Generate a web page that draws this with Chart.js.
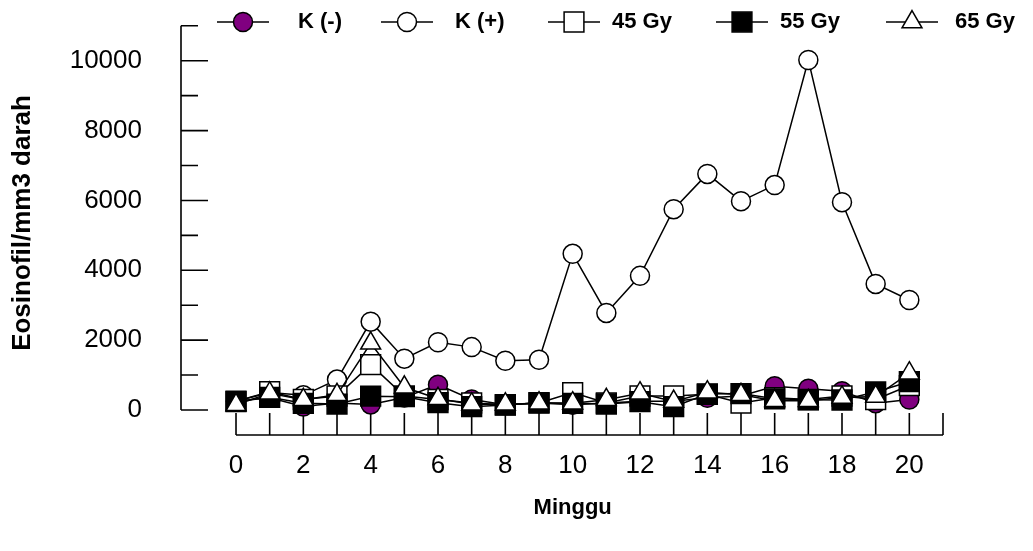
<!DOCTYPE html>
<html>
<head>
<meta charset="utf-8">
<script src="https://cdn.jsdelivr.net/npm/chart.js@4.4.1/dist/chart.umd.min.js"></script>
<style>
  body { margin: 0; background: #fff; }
  #wrap { width: 1033px; height: 551px; }
</style>
</head>
<body>
<div id="wrap"><canvas id="eosChart" width="1033" height="551"></canvas></div>
<script>
// weeks (Minggu) on the x axis
const weeks = [0, 1, 2, 3, 4, 5, 6, 7, 8, 9, 10, 11, 12, 13, 14, 15, 16, 17, 18, 19, 20];
const xTickLabels = [0, 2, 4, 6, 8, 10, 12, 14, 16, 18, 20];
const yTickLabels = [0, 2000, 4000, 6000, 8000, 10000];

// eosinophil counts per mm3 blood
const kMinus = [250, 350, 100, 200, 160, 360, 725, 300, 150, 200, 150, 200, 250, 250, 350, 400, 680, 610, 540, 195, 300];
const kPlus  = [250, 500, 420, 870, 2530, 1470, 1940, 1800, 1410, 1440, 4470, 2780, 3840, 5750, 6760, 5980, 6440, 10020, 5950, 3610, 3150];
const gy45   = [250, 525, 300, 400, 1300, 400, 300, 200, 150, 200, 500, 200, 400, 400, 450, 200, 350, 300, 400, 300, 700];
const gy55   = [240, 364, 190, 170, 395, 380, 210, 95, 143, 210, 190, 172, 238, 95, 458, 470, 320, 290, 286, 515, 810];
const gy65   = [150, 480, 290, 435, 1910, 650, 320, 167, 167, 195, 195, 292, 481, 243, 510, 435, 263, 263, 358, 386, 1054];

const FONT = '"Liberation Sans", Arial, sans-serif';

function pts(values) {
    return weeks.map((w, i) => ({ x: w, y: values[i] }));
}

function series(label, values, style, radius, fill, order) {
    return {
        label: label,
        data: pts(values),
        order: order,
        borderColor: '#000',
        borderWidth: 1.5,
        tension: 0,
        pointStyle: style,
        pointRadius: radius,
        pointBackgroundColor: fill,
        pointBorderColor: '#000',
        pointBorderWidth: 1.5
    };
}

// same marker shapes as Chart.js uses, for the legend
function marker(ctx, style, r, x, y) {
    ctx.beginPath();
    if (style === 'circle') {
        ctx.arc(x, y, r, 0, Math.PI * 2);
    } else if (style === 'rect') {
        const s = r * Math.SQRT1_2;
        ctx.rect(x - s, y - s, 2 * s, 2 * s);
    } else if (style === 'triangle') {
        ctx.moveTo(x, y - r);
        ctx.lineTo(x + Math.sin(2 * Math.PI / 3) * r, y + 0.5 * r);
        ctx.lineTo(x - Math.sin(2 * Math.PI / 3) * r, y + 0.5 * r);
        ctx.closePath();
    }
    ctx.fill();
    ctx.stroke();
}

const sigmaAxes = {
    id: 'sigmaAxes',
    beforeDatasetsDraw(chart) {
        const { ctx, chartArea, scales: { x, y } } = chart;
        ctx.save();
        ctx.strokeStyle = '#000';
        ctx.lineWidth = 1.6;
        ctx.beginPath();
        // y axis, ticks pointing inward
        const ax = chartArea.left;
        ctx.moveTo(ax, y.getPixelForValue(11000));
        ctx.lineTo(ax, y.getPixelForValue(0));
        for (let v = 0; v <= 11000; v += 1000) {
            const py = y.getPixelForValue(v);
            ctx.moveTo(ax, py);
            ctx.lineTo(ax + (v % 2000 === 0 ? 27 : 17), py);
        }
        // offset x axis, ticks pointing up
        const by = chartArea.bottom;
        ctx.moveTo(x.getPixelForValue(0), by);
        ctx.lineTo(x.getPixelForValue(21), by);
        for (let w = 0; w <= 21; w++) {
            const px = x.getPixelForValue(w);
            ctx.moveTo(px, by);
            ctx.lineTo(px, by - 22);
        }
        ctx.stroke();
        ctx.restore();
    },
    afterDraw(chart) {
        const { ctx, scales: { x } } = chart;
        ctx.save();
        ctx.fillStyle = '#000';
        ctx.textAlign = 'center';
        ctx.textBaseline = 'middle';
        ctx.font = 'bold 22px ' + FONT;
        ctx.fillText('Minggu', x.getPixelForValue(10), 508);
        ctx.font = 'bold 26px ' + FONT;
        ctx.translate(23, 223);
        ctx.rotate(-Math.PI / 2);
        ctx.fillText('Eosinofil/mm3 darah', 0, 0);
        ctx.restore();

        // legend row across the top
        const mx = [243, 407, 574, 742, 912];
        const tx = [298, 455, 612, 780, 955];
        const ly = 22;
        ctx.save();
        ctx.font = 'bold 22px ' + FONT;
        ctx.textBaseline = 'middle';
        ctx.textAlign = 'left';
        chart.data.datasets.forEach((ds, i) => {
            ctx.strokeStyle = '#000';
            ctx.lineWidth = 1.5;
            ctx.beginPath();
            ctx.moveTo(mx[i] - 26, ly);
            ctx.lineTo(mx[i] + 26, ly);
            ctx.stroke();
            ctx.fillStyle = ds.pointBackgroundColor;
            marker(ctx, ds.pointStyle, ds.pointRadius, mx[i], ly);
            ctx.fillStyle = '#000';
            ctx.fillText(ds.label, tx[i], ly);
        });
        ctx.restore();
    }
};

new Chart(document.getElementById('eosChart'), {
    type: 'line',
    data: {
        datasets: [
            series('K (-)', kMinus, 'circle', 9.5, '#800080', 5),
            series('K (+)', kPlus, 'circle', 9.5, '#ffffff', 4),
            series('45 Gy', gy45, 'rect', 14, '#ffffff', 3),
            series('55 Gy', gy55, 'rect', 14, '#000000', 2),
            series('65 Gy', gy65, 'triangle', 11.5, '#ffffff', 1)
        ]
    },
    options: {
        responsive: false,
        animation: false,
        devicePixelRatio: 1,
        layout: { padding: { top: 25.8, right: 90, left: 0, bottom: 0 } },
        plugins: {
            legend: { display: false },
            tooltip: { enabled: false }
        },
        scales: {
            x: {
                type: 'linear',
                min: -1.634,
                max: 21,
                grid: { display: false, drawTicks: false },
                border: { display: false },
                afterFit: s => { s.height = 116; s.paddingLeft = 0; s.paddingRight = 0; },
                afterBuildTicks: s => { s.ticks = xTickLabels.map(v => ({ value: v })); },
                ticks: {
                    autoSkip: false,
                    maxRotation: 0,
                    padding: 15,
                    color: '#000',
                    font: { family: FONT, size: 26 },
                    callback: v => String(v)
                }
            },
            y: {
                type: 'linear',
                min: -716,
                max: 11000,
                grid: { display: false, drawTicks: false },
                border: { display: false },
                afterFit: s => { s.width = 181; s.paddingTop = 0; s.paddingBottom = 0; },
                afterBuildTicks: s => { s.ticks = yTickLabels.map(v => ({ value: v })); },
                ticks: {
                    padding: 39,
                    color: '#000',
                    font: { family: FONT, size: 26 },
                    callback: v => String(v)
                }
            }
        }
    },
    plugins: [sigmaAxes]
});
</script>
</body>
</html>
